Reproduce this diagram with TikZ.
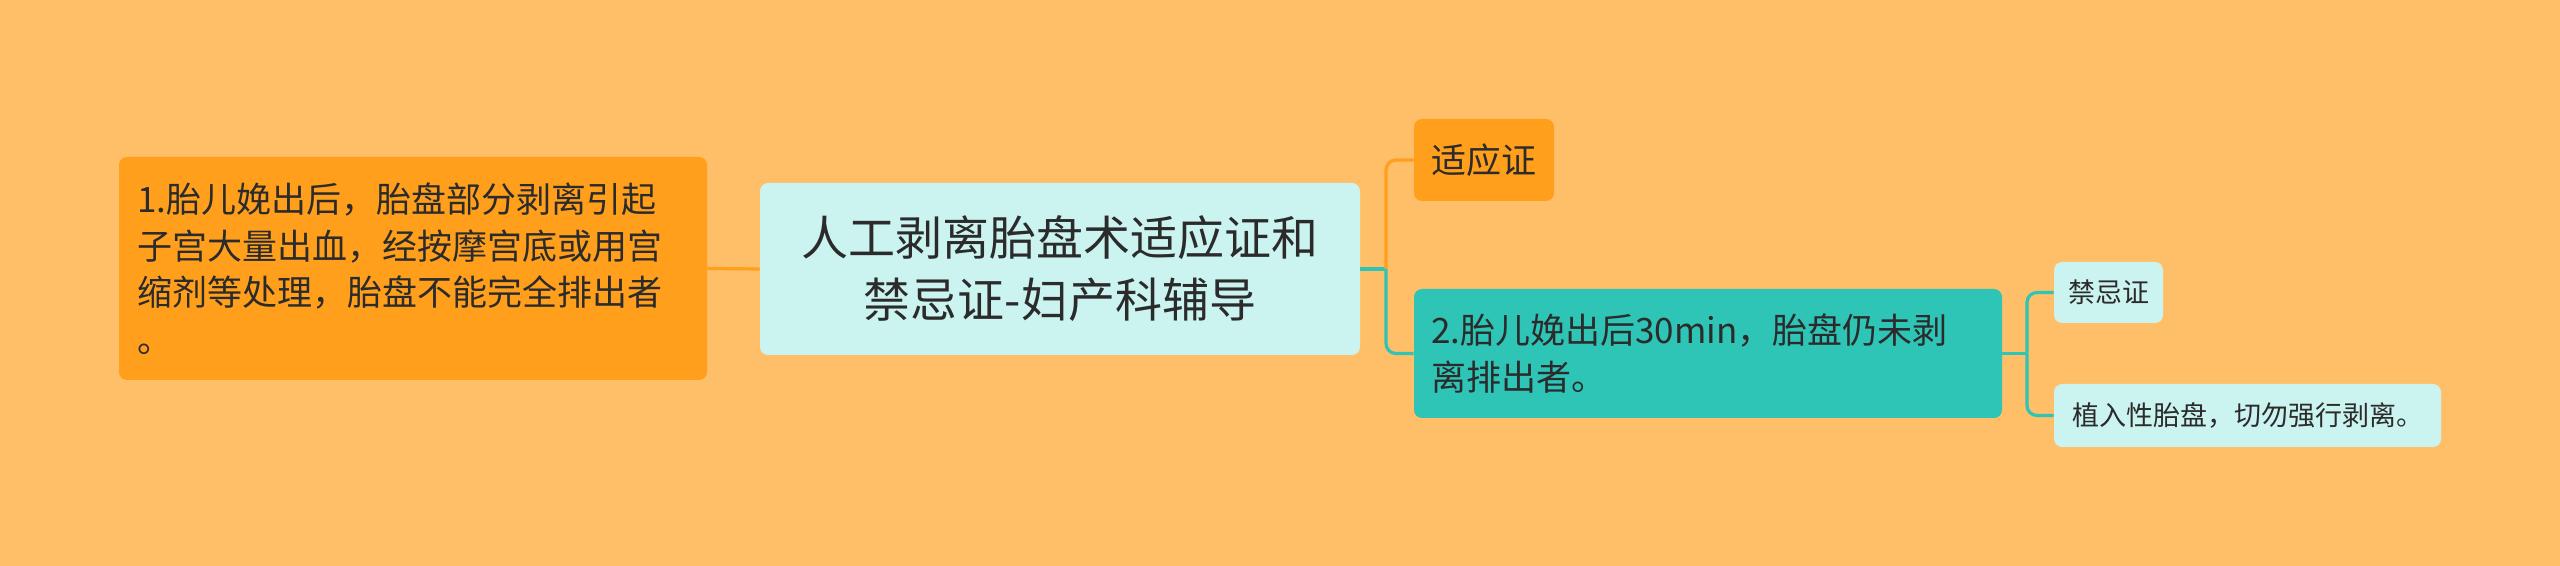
\documentclass[tikz,border=0pt]{standalone}
\usepackage{fontspec}
\newfontfamily\cjk{Noto Sans CJK SC}
\definecolor{bgc}{HTML}{FFBF69}
\definecolor{orng}{HTML}{FF9F1C}
\definecolor{lcyan}{HTML}{CBF3F0}
\definecolor{teal2}{HTML}{2EC4B6}
\definecolor{txt}{HTML}{2B2B2B}
\tikzset{
  box/.style={rectangle, rounded corners=4pt, draw=none, text=txt, font=\cjk, inner ysep=0pt},
  orangebox/.style={box, fill=orng},
  cyanbox/.style={box, fill=lcyan},
  tealbox/.style={box, fill=teal2},
  olink/.style={draw=orng, line width=1.6pt, rounded corners=5pt},
  tlink/.style={draw=teal2, line width=1.6pt, rounded corners=5pt},
}
\begin{document}
\begin{tikzpicture}[x=0.5pt,y=-0.5pt]
\fill[bgc] (0,0) rectangle (2560,566);
\useasboundingbox (0,0) rectangle (2560,566);

\node[orangebox, minimum width=294pt, minimum height=111.5pt, text width=276pt, align=left, inner xsep=9pt,
  font=\cjk\fontsize{17.5pt}{23.3pt}\selectfont] (L) at (413,268.5)
  {1.胎儿娩出后，胎盘部分剥离引起\\子宫大量出血，经按摩宫底或用宫\\缩剂等处理，胎盘不能完全排出者\\。};

\node[cyanbox, minimum width=300pt, minimum height=86pt, align=center,
  font=\cjk\fontsize{23.5pt}{31pt}\selectfont] (C) at (1060,269)
  {人工剥离胎盘术适应证和\\禁忌证-妇产科辅导};

\node[orangebox, minimum width=70pt, minimum height=41pt,
  font=\cjk\fontsize{17.5pt}{23.3pt}\selectfont] (A) at (1484,160) {适应证};

\node[tealbox, minimum width=294pt, minimum height=64.5pt, text width=277pt, align=left, inner xsep=8.5pt,
  font=\cjk\fontsize{17.5pt}{23.3pt}\selectfont] (B) at (1708,353.5)
  {2.胎儿娩出后30min，胎盘仍未剥\\离排出者。};

\node[cyanbox, minimum width=54.5pt, minimum height=30.5pt,
  font=\cjk\fontsize{13.5pt}{17pt}\selectfont] (K1) at (2108.5,292.5) {禁忌证};

\node[cyanbox, minimum width=193.5pt, minimum height=31.5pt,
  font=\cjk\fontsize{13.5pt}{17pt}\selectfont] (K2) at (2247.5,415.5) {植入性胎盘，切勿强行剥离。};

\coordinate (j1) at (1386,269);
\coordinate (j2) at (2027,353.5);

\draw[olink] (L.east) -- (C.west);
\draw[tlink] (C.east) -- (j1);
\draw[olink] (j1) |- (A.west);
\draw[tlink] (j1) |- (B.west);
\draw[tlink] (B.east) -- (j2);
\draw[tlink] (j2) |- (K1.west);
\draw[tlink] (j2) |- (K2.west);
\end{tikzpicture}
\end{document}
